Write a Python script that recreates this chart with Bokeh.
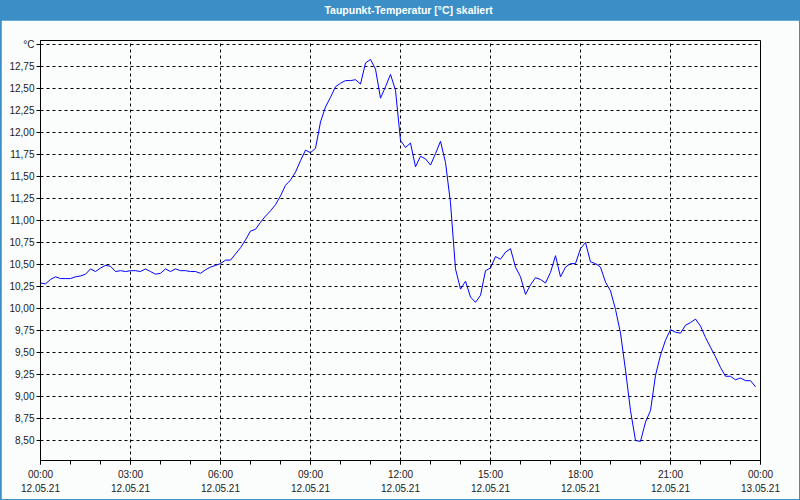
from bokeh.plotting import figure
from bokeh.layouts import column
from bokeh.models import FixedTicker, Label, Range1d
from bokeh.embed import file_html
from bokeh.resources import INLINE

# Dew point temperature, one reading every 10 minutes, 12.05.21 00:00 - 23:50
values = [
    10.29, 10.28, 10.33, 10.36, 10.34, 10.34, 10.34, 10.36, 10.37, 10.39,
    10.45, 10.42, 10.46, 10.49, 10.48, 10.42, 10.43, 10.42, 10.43, 10.43,
    10.42, 10.45, 10.42, 10.39, 10.40, 10.45, 10.42, 10.45, 10.43, 10.43,
    10.42, 10.42, 10.40, 10.44, 10.47, 10.49, 10.51, 10.55, 10.55, 10.62,
    10.69, 10.78, 10.88, 10.90, 10.98, 11.05, 11.11, 11.18, 11.28, 11.40,
    11.46, 11.55, 11.68, 11.80, 11.77, 11.82, 12.12, 12.29, 12.40, 12.52,
    12.56, 12.59, 12.59, 12.60, 12.55, 12.79, 12.83, 12.72, 12.39, 12.52,
    12.66, 12.48, 11.91, 11.83, 11.88, 11.61, 11.73, 11.70, 11.63, 11.76,
    11.90, 11.66, 11.20, 10.45, 10.22, 10.31, 10.13, 10.07, 10.15, 10.43,
    10.46, 10.59, 10.56, 10.64, 10.68, 10.47, 10.36, 10.16, 10.27, 10.35,
    10.33, 10.29, 10.41, 10.60, 10.36, 10.47, 10.51, 10.51, 10.68, 10.75,
    10.53, 10.51, 10.47, 10.30, 10.20, 9.99, 9.72, 9.30, 8.84, 8.50,
    8.49, 8.71, 8.84, 9.24, 9.47, 9.64, 9.76, 9.73, 9.72, 9.81,
    9.84, 9.88, 9.80, 9.67, 9.56, 9.45, 9.33, 9.23, 9.23, 9.19,
    9.21, 9.18, 9.18, 9.11,
]
step_minutes = 10
hours = [i * step_minutes / 60 for i in range(len(values))]

y_ticks = [8.5, 8.75, 9.0, 9.25, 9.5, 9.75, 10.0, 10.25, 10.5, 10.75,
           11.0, 11.25, 11.5, 11.75, 12.0, 12.25, 12.5, 12.75, 13.0]
y_tick_labels = ["8,50", "8,75", "9,00", "9,25", "9,50", "9,75", "10,00", "10,25",
                 "10,50", "10,75", "11,00", "11,25", "11,50", "11,75", "12,00",
                 "12,25", "12,50", "12,75", "°C"]
x_ticks = [0, 3, 6, 9, 12, 15, 18, 21, 24]
x_tick_labels = ["00:00\n12.05.21", "03:00\n12.05.21", "06:00\n12.05.21",
                 "09:00\n12.05.21", "12:00\n12.05.21", "15:00\n12.05.21",
                 "18:00\n12.05.21", "21:00\n12.05.21", "00:00\n13.05.21"]
x_minor_ticks = list(range(0, 25))
title_text = "Taupunkt-Temperatur [°C] skaliert"

FONT = "Liberation Sans"
BLUE = "#3c8fc6"
BG = "#fbfdfc"

# title bar
bar = figure(width=798, height=20, output_backend="svg", toolbar_location=None,
             x_range=Range1d(0, 798), y_range=Range1d(0, 20),
             min_border_left=0, min_border_right=0, min_border_top=0, min_border_bottom=0)
bar.axis.visible = False
bar.grid.visible = False
bar.outline_line_color = None
bar.background_fill_color = BLUE
bar.border_fill_color = BLUE
bar.add_layout(Label(x=408, y=11, text=title_text,
                     text_align="center", text_baseline="middle", text_color="white",
                     text_font=FONT, text_font_size="10.5px", text_font_style="bold"))

# main chart
p = figure(width=798, height=479, output_backend="svg", toolbar_location=None,
           x_range=Range1d(0, 24), y_range=Range1d(8.2727, 13.0455),
           min_border_left=39, min_border_right=39, min_border_top=20, min_border_bottom=39)
p.background_fill_color = BG
p.border_fill_color = BG
p.outline_line_color = "black"
p.outline_line_width = 1

p.line(hours, values, line_color="#0000ff", line_width=1)

# axes
p.xaxis.ticker = FixedTicker(ticks=x_ticks, minor_ticks=x_minor_ticks)
p.xaxis.major_label_overrides = {t: l for t, l in zip(x_ticks, x_tick_labels)}
p.yaxis.ticker = FixedTicker(ticks=y_ticks)
p.yaxis.major_label_overrides = {t: l for t, l in zip(y_ticks, y_tick_labels)}
for ax in (p.xaxis[0], p.yaxis[0]):
    ax.axis_line_color = "black"
    ax.major_tick_line_color = "black"
    ax.minor_tick_line_color = "black"
    ax.major_tick_in = 0
    ax.major_tick_out = 4
    ax.minor_tick_in = 0
    ax.minor_tick_out = 4
    ax.major_label_text_font = FONT
    ax.major_label_text_font_size = "10px"
    ax.major_label_text_color = "#1a1a1a"
p.yaxis.minor_tick_line_color = None
p.yaxis.major_label_standoff = 2
p.xaxis.major_label_standoff = 4
p.xaxis.major_label_text_line_height = 1.35

# grid
p.xgrid.ticker = FixedTicker(ticks=x_ticks)
p.ygrid.ticker = FixedTicker(ticks=y_ticks)
for g in (p.xgrid[0], p.ygrid[0]):
    g.grid_line_color = "black"
    g.grid_line_dash = "3 3"
    g.grid_line_width = 1

layout = column(bar, p, spacing=0,
                styles={"background-color": BLUE, "padding": "0px 1px 1px 1px"})

open("out.html", "w").write(file_html(layout, INLINE))
